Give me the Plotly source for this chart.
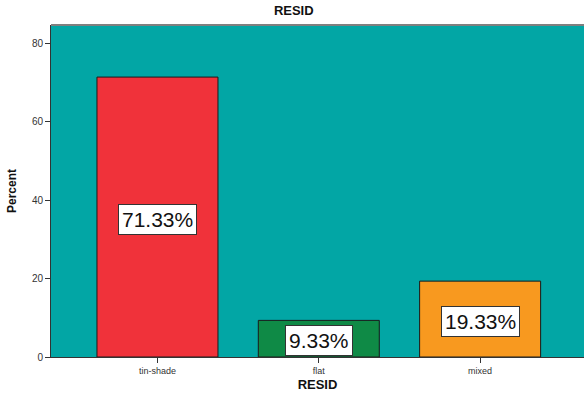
import plotly.graph_objects as go

categories = ["tin-shade", "flat", "mixed"]
percents = [71.33, 9.33, 19.33]
labels = ["71.33%", "9.33%", "19.33%"]
bar_colors = ["#F0323A", "#0F8A46", "#F8991F"]
y_ticks = [0, 20, 40, 60, 80]

FONT = "Liberation Sans, Arial, sans-serif"

fig = go.Figure()
fig.add_trace(go.Bar(
    x=[0, 1, 2],
    y=percents,
    width=0.75,
    marker=dict(color=bar_colors, line=dict(color="#1a1a1a", width=1)),
    hoverinfo="skip",
))

for i, (v, t) in enumerate(zip(percents, labels)):
    fig.add_annotation(
        x=i, y=v / 2, text=t, showarrow=False, yshift=-2,
        font=dict(family=FONT, size=21, color="#111"),
        bgcolor="white", bordercolor="#333", borderwidth=1, borderpad=3,
        xref="x", yref="y",
    )

# top border of plot area
fig.add_shape(type="line", xref="paper", yref="paper", x0=0, x1=1, y0=1, y1=1,
              line=dict(color="#7f7f7f", width=2))

fig.update_layout(
    width=584, height=395,
    margin=dict(l=51, r=0, t=25, b=38),
    paper_bgcolor="white",
    plot_bgcolor="#02A6A5",
    showlegend=False,
    title=dict(text="<b>RESID</b>", x=0.503, xanchor="center", y=0.985, yanchor="top",
               font=dict(family=FONT, size=13, color="#111")),
    font=dict(family=FONT, color="#222"),
)
fig.update_xaxes(
    range=[-0.66, 2.644],
    tickmode="array", tickvals=[0, 1, 2], ticktext=categories,
    ticks="outside", ticklen=5, tickcolor="#333", tickwidth=1,
    showline=True, linecolor="#333", linewidth=1,
    showgrid=False, zeroline=False,
    tickfont=dict(family=FONT, size=9, color="#333"),
    title=dict(text="<b>RESID</b>", standoff=5, font=dict(family=FONT, size=13, color="#111")),
)
fig.update_yaxes(
    range=[0, 84.6],
    tickmode="array", tickvals=y_ticks,
    ticks="outside", ticklen=5, tickcolor="#333", tickwidth=1,
    showline=True, linecolor="#333", linewidth=1,
    showgrid=False, zeroline=False,
    tickfont=dict(family=FONT, size=10, color="#333"),
    title=dict(text="<b>Percent</b>", standoff=12, font=dict(family=FONT, size=12, color="#111")),
)

fig.write_html("out.html")
